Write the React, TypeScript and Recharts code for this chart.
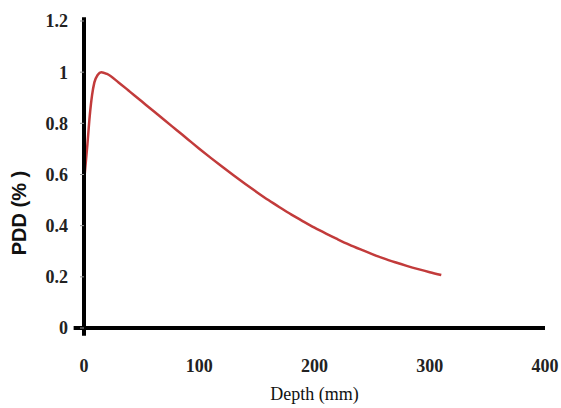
import { Label, Line, LineChart, ReferenceLine, XAxis, YAxis } from "recharts";

const DEPTH = [0, 3, 5, 7, 9, 12, 15, 20, 30, 40, 50, 60, 70, 80, 90, 100, 110, 120, 130, 140, 150, 160, 170, 180, 190, 200, 210, 220, 230, 240, 250, 260, 270, 280, 290, 300, 310];
const PDD = [0.57, 0.72, 0.83, 0.91, 0.96, 0.99, 1.0, 0.993, 0.96, 0.923, 0.886, 0.849, 0.812, 0.775, 0.738, 0.701, 0.665, 0.63, 0.596, 0.563, 0.531, 0.5, 0.471, 0.443, 0.417, 0.392, 0.369, 0.347, 0.326, 0.307, 0.289, 0.272, 0.257, 0.243, 0.23, 0.218, 0.207];
const X_TICKS = [0, 100, 200, 300, 400];
const Y_TICKS = [0, 0.2, 0.4, 0.6, 0.8, 1, 1.2];

const data = DEPTH.map((d, i) => ({ depth: d, pdd: PDD[i] }));

const tickFont = {
  fontFamily: "'Liberation Serif', 'Times New Roman', serif",
  fontSize: 18,
  fontWeight: "bold" as const,
  fill: "#222",
};

function YTitle() {
  return (
    <text
      x={19}
      y={213}
      transform="rotate(-90 19 213)"
      textAnchor="middle"
      dominantBaseline="central"
      fontFamily="'Liberation Sans', Arial, sans-serif"
      fontWeight="bold"
      fontSize={20}
      fill="#111"
    >
      PDD (% )
    </text>
  );
}

export default function App() {
  return (
    <div style={{ position: "absolute", left: 0, top: 0, background: "#fff" }}>
      <LineChart
        width={561}
        height={408}
        data={data}
        margin={{ top: 21, right: 16, bottom: 8, left: 24 }}
      >
        <XAxis
          dataKey="depth"
          type="number"
          domain={[0, 400]}
          ticks={X_TICKS}
          height={72}
          tickLine={false}
          tickSize={0}
          tickMargin={31}
          axisLine={{ stroke: "#000", strokeWidth: 4 }}
          tick={tickFont}
        >
          <Label
            value="Depth (mm)"
            position="insideBottom"
            offset={0}
            style={{ ...tickFont, fontWeight: "normal", fill: "#111" }}
          />
        </XAxis>
        <YAxis
          type="number"
          domain={[0, 1.2]}
          ticks={Y_TICKS}
          width={60}
          tickSize={4}
          tickMargin={12}
          tickLine={{ stroke: "#999", strokeWidth: 1 }}
          axisLine={{ stroke: "#000", strokeWidth: 4 }}
          tick={tickFont}
          label={{ content: () => <YTitle /> }}
        />
        <ReferenceLine
          segment={[{ x: 0, y: -0.03 }, { x: 0, y: 1.215 }]}
          stroke="#000"
          strokeWidth={4}
          ifOverflow="visible"
        />
        <ReferenceLine
          segment={[{ x: -9, y: 0 }, { x: 400, y: 0 }]}
          stroke="#000"
          strokeWidth={4}
          ifOverflow="visible"
        />
        <Line
          dataKey="pdd"
          type="monotone"
          stroke="#c23b3b"
          strokeWidth={2.5}
          dot={false}
          isAnimationActive={false}
        />
      </LineChart>
    </div>
  );
}
